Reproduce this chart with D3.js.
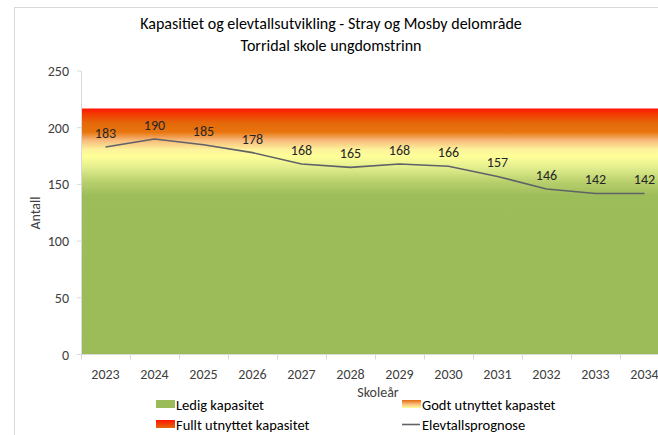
<!DOCTYPE html>
<html>
<head>
<meta charset="utf-8">
<script src="https://cdn.jsdelivr.net/npm/d3@7"></script>
<style>
  body { margin: 0; background: #fff; overflow: hidden; }
  svg { display: block; font-family: Carlito, Calibri, Lato, sans-serif; }
</style>
</head>
<body>
<svg id="chart" width="658" height="435"></svg>
<script>
// data
const years = ["2023","2024","2025","2026","2027","2028","2029","2030","2031","2032","2033","2034"];
const elevtall = [183, 190, 185, 178, 168, 165, 168, 166, 157, 146, 142, 142];
// capacity bands (stacked)
const ledig = [175, 175, 175, 175, 175, 175, 175, 175, 175, 175, 175, 175];
const godt = [28, 28, 28, 28, 28, 28, 28, 28, 28, 28, 28, 28];
const fullt = [14, 14, 14, 14, 14, 14, 14, 14, 14, 14, 14, 14];
const yTicks = [0, 50, 100, 150, 200, 250];

const svg = d3.select("#chart");
const plotLeft = 81, plotTop = 71, plotBottom = 354.5, band = 49;

const x = d3.scaleBand().domain(years).range([plotLeft, plotLeft + band * years.length]);
const y = d3.scaleLinear().domain([0, 250]).range([plotBottom, plotTop]);

// chart border
svg.append("rect")
  .attr("x", 14.5).attr("y", 7.5)
  .attr("width", 700).attr("height", 500)
  .attr("fill", "none").attr("stroke", "#d9d9d9");

// title
svg.append("text").attr("x", 331).attr("y", 29).attr("text-anchor", "middle")
  .attr("font-size", 16).attr("fill", "#000").text("Kapasitiet og elevtallsutvikling - Stray og Mosby delområde");
svg.append("text").attr("x", 331).attr("y", 51).attr("text-anchor", "middle")
  .attr("font-size", 16).attr("fill", "#000").text("Torridal skole ungdomstrinn");

// gradient for capacity areas, in value space
const defs = svg.append("defs");
const stops = [
  [217, "#ff1400"], [212, "#f23c02"], [204, "#e4690a"], [196, "#e8750f"],
  [189, "#f7b97a"], [181, "#fdf19a"], [175, "#ffff99"], [165, "#e3ee8e"],
  [152, "#b7cf6c"], [140, "#9dbd5a"], [0, "#9bbb59"]
];
const grad = defs.append("linearGradient").attr("id", "capGrad")
  .attr("gradientUnits", "userSpaceOnUse")
  .attr("x1", 0).attr("x2", 0).attr("y1", y(217)).attr("y2", y(0));
stops.forEach(s => {
  grad.append("stop").attr("offset", (y(s[0]) - y(217)) / (y(0) - y(217))).attr("stop-color", s[1]);
});

const godtGrad = defs.append("linearGradient").attr("id", "godtGrad").attr("x1", 0).attr("x2", 0).attr("y1", 0).attr("y2", 1);
godtGrad.append("stop").attr("offset", 0).attr("stop-color", "#e4690a");
godtGrad.append("stop").attr("offset", 0.5).attr("stop-color", "#f7b97a");
godtGrad.append("stop").attr("offset", 1).attr("stop-color", "#ffff99");
const fulltGrad = defs.append("linearGradient").attr("id", "fulltGrad").attr("x1", 0).attr("x2", 0).attr("y1", 0).attr("y2", 1);
fulltGrad.append("stop").attr("offset", 0).attr("stop-color", "#ff1400");
fulltGrad.append("stop").attr("offset", 1).attr("stop-color", "#e4690a");

// stacked capacity areas spanning the whole band of each year
const rows = years.map((yr, i) => ({ year: yr, ledig: ledig[i], godt: godt[i], fullt: fullt[i] }));
const stacked = d3.stack().keys(["ledig", "godt", "fullt"])(rows);
const area = d3.area()
  .x(d => d.px)
  .y0(d => y(d.v0))
  .y1(d => y(d.v1));
stacked.forEach((layer, li) => {
  const pts = [];
  layer.forEach(d => {
    // lower layers reach a little into the next one so no seam shows
    const top = li < stacked.length - 1 ? d[1] + 1 : d[1];
    pts.push({ px: x(d.data.year), v0: d[0], v1: top });
    pts.push({ px: x(d.data.year) + x.bandwidth(), v0: d[0], v1: top });
  });
  svg.append("path").datum(pts).attr("d", area).attr("fill", "url(#capGrad)");
});

// y axis
svg.append("line").attr("x1", plotLeft + 0.5).attr("x2", plotLeft + 0.5).attr("y1", plotTop).attr("y2", plotBottom)
  .attr("stroke", "#d9d9d9");
yTicks.forEach(t => {
  svg.append("line").attr("x1", plotLeft - 4).attr("x2", plotLeft).attr("y1", y(t)).attr("y2", y(t)).attr("stroke", "#d9d9d9");
  svg.append("text").attr("x", 69).attr("y", y(t) + 5).attr("text-anchor", "end")
    .attr("font-size", 14).attr("fill", "#404040").text(t);
});

// x axis
svg.append("line").attr("x1", plotLeft).attr("x2", 680).attr("y1", plotBottom).attr("y2", plotBottom).attr("stroke", "#d9d9d9");
years.forEach(yr => {
  svg.append("line").attr("x1", x(yr) + 0.5).attr("x2", x(yr) + 0.5).attr("y1", plotBottom).attr("y2", plotBottom + 5)
    .attr("stroke", "#d9d9d9");
  svg.append("text").attr("x", x(yr) + band / 2).attr("y", 379).attr("text-anchor", "middle")
    .attr("font-size", 14).attr("fill", "#404040").text(yr);
});

// axis titles
svg.append("text").attr("x", 378).attr("y", 397).attr("text-anchor", "middle")
  .attr("font-size", 14).attr("fill", "#404040").text("Skoleår");
svg.append("text").attr("transform", "translate(40,213) rotate(-90)").attr("text-anchor", "middle")
  .attr("font-size", 14).attr("fill", "#404040").text("Antall");

// forecast line
const line = d3.line()
  .x((d, i) => x(years[i]) + band / 2)
  .y(d => y(d));
svg.append("path").datum(elevtall).attr("d", line)
  .attr("fill", "none").attr("stroke", "#5f6267").attr("stroke-width", 1.6);

// data labels
elevtall.forEach((v, i) => {
  svg.append("text").attr("x", x(years[i]) + band / 2).attr("y", y(v) - 9)
    .attr("text-anchor", "middle").attr("font-size", 14).attr("fill", "#262626").text(v);
});

// legend
const legend = [
  { label: "Ledig kapasitet", x: 156, y: 410, fill: "#9bbb59", type: "rect" },
  { label: "Godt utnyttet kapastet", x: 402, y: 410, fill: "url(#godtGrad)", type: "rect" },
  { label: "Fullt utnyttet kapasitet", x: 156, y: 430, fill: "url(#fulltGrad)", type: "rect" },
  { label: "Elevtallsprognose", x: 402, y: 430, fill: "#5f6267", type: "line" }
];
legend.forEach(l => {
  if (l.type === "rect") {
    svg.append("rect").attr("x", l.x).attr("y", l.y - 10).attr("width", 19).attr("height", 8).attr("fill", l.fill);
  } else {
    svg.append("line").attr("x1", l.x).attr("x2", l.x + 18).attr("y1", l.y - 5.5).attr("y2", l.y - 5.5)
      .attr("stroke", l.fill).attr("stroke-width", 1.6);
  }
  svg.append("text").attr("x", l.x + 20).attr("y", l.y).attr("font-size", 14.5).attr("fill", "#000").text(l.label);
});
</script>
</body>
</html>
